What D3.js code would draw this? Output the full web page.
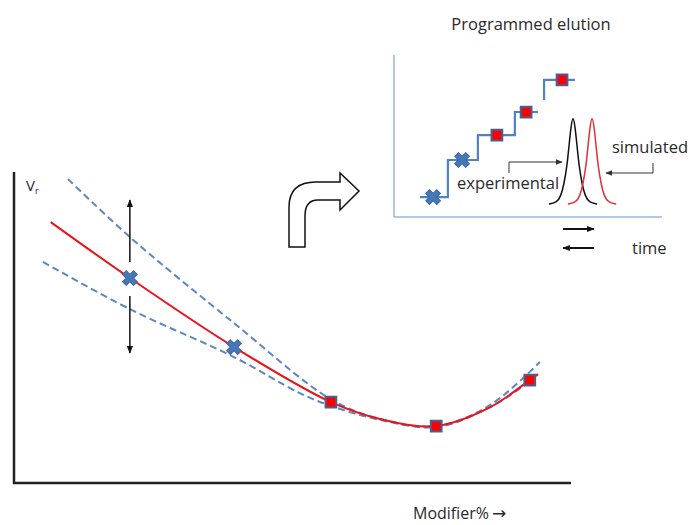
<!DOCTYPE html>
<html>
<head>
<meta charset="utf-8">
<script src="https://cdn.jsdelivr.net/npm/d3@7"></script>
<style>
  body { margin: 0; background: #fff; }
  text { font-family: "Open Sans", sans-serif; fill: #2a2a2a; }
</style>
</head>
<body>
<script>
const WIDTH = 691
const HEIGHT = 525

// main panel: retention volume vs modifier % (arbitrary units 0..100)
const FIT_X = [6.6, 20.8, 39.5, 56.9, 65.7, 75.8, 85.5, 92.6, 94.1]
const FIT_Y = [83.9, 65.9, 43.7, 26.0, 20.6, 18.3, 24.4, 33.1, 35.0]
const UPPER_X = [9.7, 20.8, 39.5, 56.9, 65.7, 75.8, 85.5, 94.4]
const UPPER_Y = [97.7, 79.1, 51.4, 26.9, 20.6, 18.3, 25.1, 38.9]
const LOWER_X = [5.2, 20.8, 39.5, 51.3, 56.9, 65.7, 75.8, 85.5, 93.5]
const LOWER_Y = [71.1, 55.9, 40.5, 28.9, 24.8, 20.3, 18.0, 24.4, 33.8]
const CROSS_X = [20.8, 39.5]
const CROSS_Y = [65.9, 43.7]
const SQUARE_X = [56.9, 75.8, 92.6]
const SQUARE_Y = [26.0, 18.3, 33.1]

// inset: programmed elution steps
const STEP1_X = [9.7, 20.1, 20.1, 31.3, 31.3, 45.1, 45.1, 53.7]
const STEP1_Y = [12.3, 12.3, 35.2, 35.2, 50.6, 50.6, 64.8, 64.8]
const STEP2_X = [56.0, 56.0, 67.5]
const STEP2_Y = [72.2, 84.6, 84.6]
const IN_CROSS_X = [14.6, 25.4]
const IN_CROSS_Y = [12.3, 35.2]
const IN_SQUARE_X = [38.4, 49.3, 62.7]
const IN_SQUARE_Y = [50.6, 64.8, 84.6]
const PEAK_CENTERS = [66.8, 73.9] // experimental, simulated
const PEAK_OFFSET = [-9, -6, -4.5, -3.4, -2.2, -1.5, -0.75, 0, 0.75, 1.5, 2.2, 3.4, 4.5, 6, 9]
const PEAK_HEIGHT = [8, 9, 13, 20, 32, 44, 56, 63, 56, 44, 32, 20, 13, 9, 8]

const svg = d3.select('body')
  .append('svg')
  .attr('width', WIDTH)
  .attr('height', HEIGHT)

const defs = svg.append('defs')
const addHead = (id, color, size) => {
  defs.append('marker')
    .attr('id', id)
    .attr('viewBox', '0 0 10 10')
    .attr('refX', 9).attr('refY', 5)
    .attr('markerWidth', size).attr('markerHeight', size)
    .attr('markerUnits', 'userSpaceOnUse')
    .attr('orient', 'auto')
    .append('path')
    .attr('d', 'M0,1 L10,5 L0,9 Z')
    .attr('fill', color)
}
addHead('headBlack', '#111', 8)
addHead('headGrey', '#333', 7)

// ---------- main panel ----------
const x = d3.scaleLinear().domain([0, 100]).range([14, 571])
const y = d3.scaleLinear().domain([0, 100]).range([483, 172])

const main = svg.append('g')

main.append('line')
  .attr('x1', x(0)).attr('x2', x(0))
  .attr('y1', y(0) + 1).attr('y2', y(100))
  .attr('stroke', '#222').attr('stroke-width', 2.5)
main.append('line')
  .attr('x1', x(0) - 1).attr('x2', x(100))
  .attr('y1', y(0)).attr('y2', y(0))
  .attr('stroke', '#222').attr('stroke-width', 2.5)

const curve = d3.line()
  .x(d => x(d[0]))
  .y(d => y(d[1]))
  .curve(d3.curveCatmullRom)

main.append('path')
  .attr('d', curve(d3.zip(UPPER_X, UPPER_Y)))
  .attr('fill', 'none').attr('stroke', '#5b87c2')
  .attr('stroke-width', 2).attr('stroke-dasharray', '7,4')
main.append('path')
  .attr('d', curve(d3.zip(LOWER_X, LOWER_Y)))
  .attr('fill', 'none').attr('stroke', '#5b87c2')
  .attr('stroke-width', 2).attr('stroke-dasharray', '7,4')
main.append('path')
  .attr('d', curve(d3.zip(FIT_X, FIT_Y)))
  .attr('fill', 'none').attr('stroke', '#e8141a')
  .attr('stroke-width', 2)

// double arrow around first point
main.append('line')
  .attr('x1', x(CROSS_X[0])).attr('x2', x(CROSS_X[0]))
  .attr('y1', y(71.1)).attr('y2', y(91))
  .attr('stroke', '#111').attr('stroke-width', 1.5)
  .attr('marker-end', 'url(#headBlack)')
main.append('line')
  .attr('x1', x(CROSS_X[0])).attr('x2', x(CROSS_X[0]))
  .attr('y1', y(60.1)).attr('y2', y(41.8))
  .attr('stroke', '#111').attr('stroke-width', 1.5)
  .attr('marker-end', 'url(#headBlack)')

const crossSym = d3.symbol().type(d3.symbolCross).size(135)
const squareSym = d3.symbol().type(d3.symbolSquare).size(115)

const drawCrosses = (g, xs, ys, sx, sy) => {
  g.selectAll(null)
    .data(d3.zip(xs, ys))
    .enter()
    .append('path')
    .attr('d', crossSym)
    .attr('transform', d => `translate(${sx(d[0])},${sy(d[1])}) rotate(45)`)
    .attr('fill', '#4677b8')
    .attr('stroke', '#3b66a0').attr('stroke-width', 1)
}
const drawSquares = (g, xs, ys, sx, sy) => {
  g.selectAll(null)
    .data(d3.zip(xs, ys))
    .enter()
    .append('path')
    .attr('d', squareSym)
    .attr('transform', d => `translate(${sx(d[0])},${sy(d[1])})`)
    .attr('fill', '#ff0000')
    .attr('stroke', '#4a5f8f').attr('stroke-width', 2)
}

drawCrosses(main, CROSS_X, CROSS_Y, x, y)
drawSquares(main, SQUARE_X, SQUARE_Y, x, y)

const vr = main.append('text')
  .attr('x', 26).attr('y', 191)
  .attr('font-size', 15)
vr.append('tspan').text('V')
vr.append('tspan').attr('font-size', 9).attr('dy', 3).text('r')

const mod = main.append('text')
  .attr('x', 413).attr('y', 519)
  .attr('font-size', 16)
mod.append('tspan').text('Modifier%')
mod.append('tspan').attr('dx', 3).attr('font-family', 'DejaVu Sans').attr('font-size', 17).text('→')

// curved arrow
svg.append('path')
  .attr('d', 'M289,247 L289,207 Q289,182 316,182 L340,182 L340,173 L359,191 L340,210 L340,200 L318,200 Q305,200 305,216 L305,247 Z')
  .attr('fill', '#fff').attr('stroke', '#111').attr('stroke-width', 1.5)

// ---------- inset ----------
const ix = d3.scaleLinear().domain([0, 100]).range([394, 662])
const iy = d3.scaleLinear().domain([0, 100]).range([217, 55])
const inset = svg.append('g')

inset.append('text')
  .attr('x', 531).attr('y', 30)
  .attr('text-anchor', 'middle')
  .attr('font-size', 16.5)
  .text('Programmed elution')

inset.append('line')
  .attr('x1', ix(0)).attr('x2', ix(0))
  .attr('y1', iy(0)).attr('y2', iy(100))
  .attr('stroke', '#9ab6dc').attr('stroke-width', 1.5)
inset.append('line')
  .attr('x1', ix(0)).attr('x2', ix(100))
  .attr('y1', iy(0)).attr('y2', iy(0))
  .attr('stroke', '#9ab6dc').attr('stroke-width', 1.5)

const line = d3.line().x(d => ix(d[0])).y(d => iy(d[1]))
;[[STEP1_X, STEP1_Y], [STEP2_X, STEP2_Y]].forEach(([xs, ys]) => {
  inset.append('path')
    .attr('d', line(d3.zip(xs, ys)))
    .attr('fill', 'none').attr('stroke', '#4f83c4')
    .attr('stroke-width', 2.2)
})

const peakLine = d3.line()
  .x(d => ix(d[0])).y(d => iy(d[1]))
  .curve(d3.curveBasis)
const PEAK_COLORS = ['#111', '#e0303a']
PEAK_CENTERS.forEach((c, i) => {
  inset.append('path')
    .attr('d', peakLine(PEAK_OFFSET.map((o, j) => [c + o, PEAK_HEIGHT[j]])))
    .attr('fill', 'none').attr('stroke', PEAK_COLORS[i])
    .attr('stroke-width', 1.5)
})

drawCrosses(inset, IN_CROSS_X, IN_CROSS_Y, ix, iy)
drawSquares(inset, IN_SQUARE_X, IN_SQUARE_Y, ix, iy)

inset.append('text')
  .attr('x', 457).attr('y', 189)
  .attr('font-size', 16.5)
  .text('experimental')
inset.append('text')
  .attr('x', 612).attr('y', 153)
  .attr('font-size', 16.5)
  .text('simulated')
inset.append('text')
  .attr('x', 632).attr('y', 254)
  .attr('font-size', 16.5)
  .text('time')

// leader arrows
inset.append('path')
  .attr('d', 'M509,173 L509,162 L562,162')
  .attr('fill', 'none').attr('stroke', '#333').attr('stroke-width', 1)
  .attr('marker-end', 'url(#headGrey)')
inset.append('path')
  .attr('d', 'M653,163 L653,173 L606,173')
  .attr('fill', 'none').attr('stroke', '#333').attr('stroke-width', 1)
  .attr('marker-end', 'url(#headGrey)')

// time direction arrows
inset.append('line')
  .attr('x1', 563).attr('x2', 594).attr('y1', 229).attr('y2', 229)
  .attr('stroke', '#111').attr('stroke-width', 2)
  .attr('marker-end', 'url(#headBlack)')
inset.append('line')
  .attr('x1', 594).attr('x2', 563).attr('y1', 248).attr('y2', 248)
  .attr('stroke', '#111').attr('stroke-width', 2)
  .attr('marker-end', 'url(#headBlack)')
</script>
</body>
</html>
